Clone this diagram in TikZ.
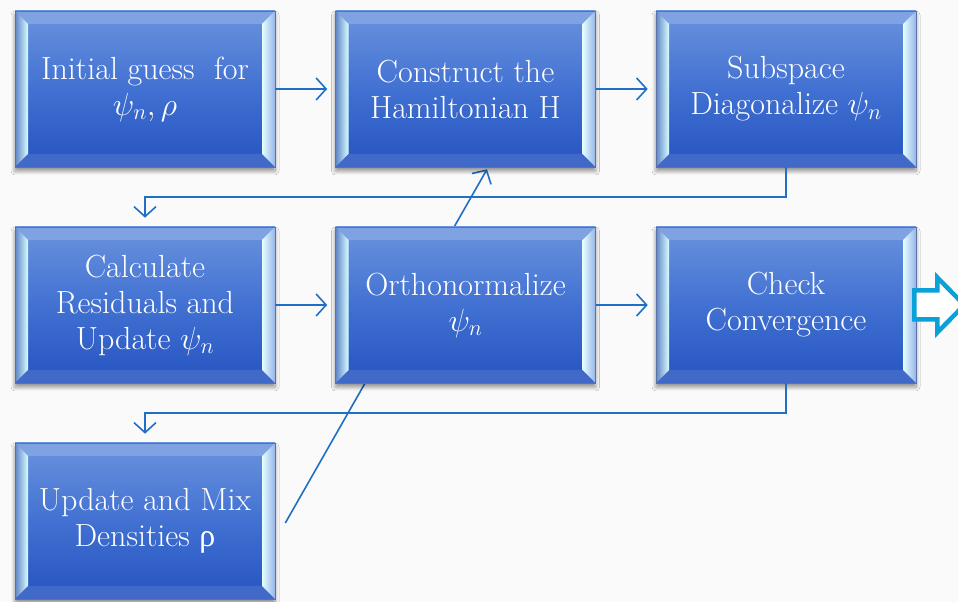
\RequirePackage{fix-cm}
\documentclass[tikz,border=0pt]{standalone}
\usepackage{fontspec}
\newfontfamily\grk{Liberation Serif}
\usetikzlibrary{calc,arrows.meta,shadows.blur,backgrounds}
\definecolor{linecol}{HTML}{1F6FC6}
\definecolor{edgecol}{HTML}{5A72A8}
\definecolor{facetop}{HTML}{6A93DD}
\definecolor{facemid}{HTML}{4171D2}
\definecolor{facebot}{HTML}{2653C0}
\definecolor{topbev}{HTML}{7FA2E3}
\definecolor{botbev}{HTML}{4069C8}
\definecolor{bigarrow}{HTML}{0AA0D8}
\definecolor{bgcol}{HTML}{FAFAFA}
\tikzset{
  panel/.style={minimum width=260pt, minimum height=156pt, inner sep=0pt,
    draw=edgecol, line width=0.6pt,
    top color=facetop, bottom color=facebot, middle color=facemid,
    blur shadow={shadow xshift=0pt, shadow yshift=-4pt, shadow blur steps=8,
      shadow opacity=45, shadow blur radius=4pt},
    text=white, align=center, font=\fontsize{32}{36}\selectfont,
    path picture={
      \coordinate (pnw) at (path picture bounding box.north west);
      \coordinate (pne) at (path picture bounding box.north east);
      \coordinate (psw) at (path picture bounding box.south west);
      \coordinate (pse) at (path picture bounding box.south east);
      \fill[topbev] (pnw) -- (pne) -- ($(pne)+(-13pt,-13pt)$) -- ($(pnw)+(13pt,-13pt)$) -- cycle;
      \fill[botbev] (psw) -- (pse) -- ($(pse)+(-13pt,13pt)$) -- ($(psw)+(13pt,13pt)$) -- cycle;
      \shade[left color=facetop!90!black, right color=white!85!cyan]
        (pnw) -- ($(pnw)+(13pt,-13pt)$) -- ($(psw)+(13pt,13pt)$) -- (psw) -- cycle;
      \shade[left color=white!90!cyan, right color=facetop!70!white]
        (pne) -- ($(pne)+(-13pt,-13pt)$) -- ($(pse)+(-13pt,13pt)$) -- (pse) -- cycle;
    }},
  arr/.style={draw=linecol, line width=1.6pt,
    -{Straight Barb[length=10pt,width=22pt,line width=1.6pt]}},
}
\begin{document}
\begin{tikzpicture}[x=1pt,y=1pt]
\useasboundingbox (0,0) rectangle (958,602);
\clip (0,0) rectangle (958,602);

\node[panel] (b1) at (145,513) {Initial guess\ \ for\\$\psi_n,\rho$};
\node[panel] (b2) at (465.5,513) {Construct the\\Hamiltonian H};
\node[panel] (b3) at (786,513) {Subspace\\Diagonalize $\psi_n$};
\node[panel] (b4) at (145,297) {Calculate\\Residuals and\\Update $\psi_n$};
\node[panel] (b5) at (465.5,297) {Orthonormalize\\$\psi_n$};
\node[panel] (b6) at (786,297) {Check\\Convergence};
\node[panel] (b7) at (145,81) {Update and Mix\\Densities {\grk ρ}};

\coordinate (s7) at ($(b7.east)+(10pt,-2pt)$);
\coordinate (e2) at ($(b2.south)+(21.5pt,-2pt)$);
\begin{pgfonlayer}{background}
  \fill[bgcol] (0,0) rectangle (958,602);
  \draw[arr] (s7) -- (e2);
\end{pgfonlayer}

\draw[arr, shorten >=8pt] (b1.east) -- (b2.west);
\draw[arr, shorten >=8pt] (b2.east) -- (b3.west);
\draw[arr, shorten >=8pt] (b4.east) -- (b5.west);
\draw[arr, shorten >=8pt] (b5.east) -- (b6.west);
\draw[arr, shorten >=9pt] (b3.south) -- ++(0,-30) -| (b4.north);
\draw[arr, shorten >=9pt] (b6.south) -- ++(0,-30) -| (b7.north);

\coordinate (ba) at ($(b6.east)+(-2pt,0pt)$);
\draw[bigarrow, fill=white, line width=4.5pt, line join=miter]
  ($(ba)+(0,14.5)$) -- ++(23,0) -- ++(0,13) -- ++(27,-27.5) -- ++(-27,-27.5)
  -- ++(0,13) -- ++(-23,0) -- cycle;
\end{tikzpicture}
\end{document}
